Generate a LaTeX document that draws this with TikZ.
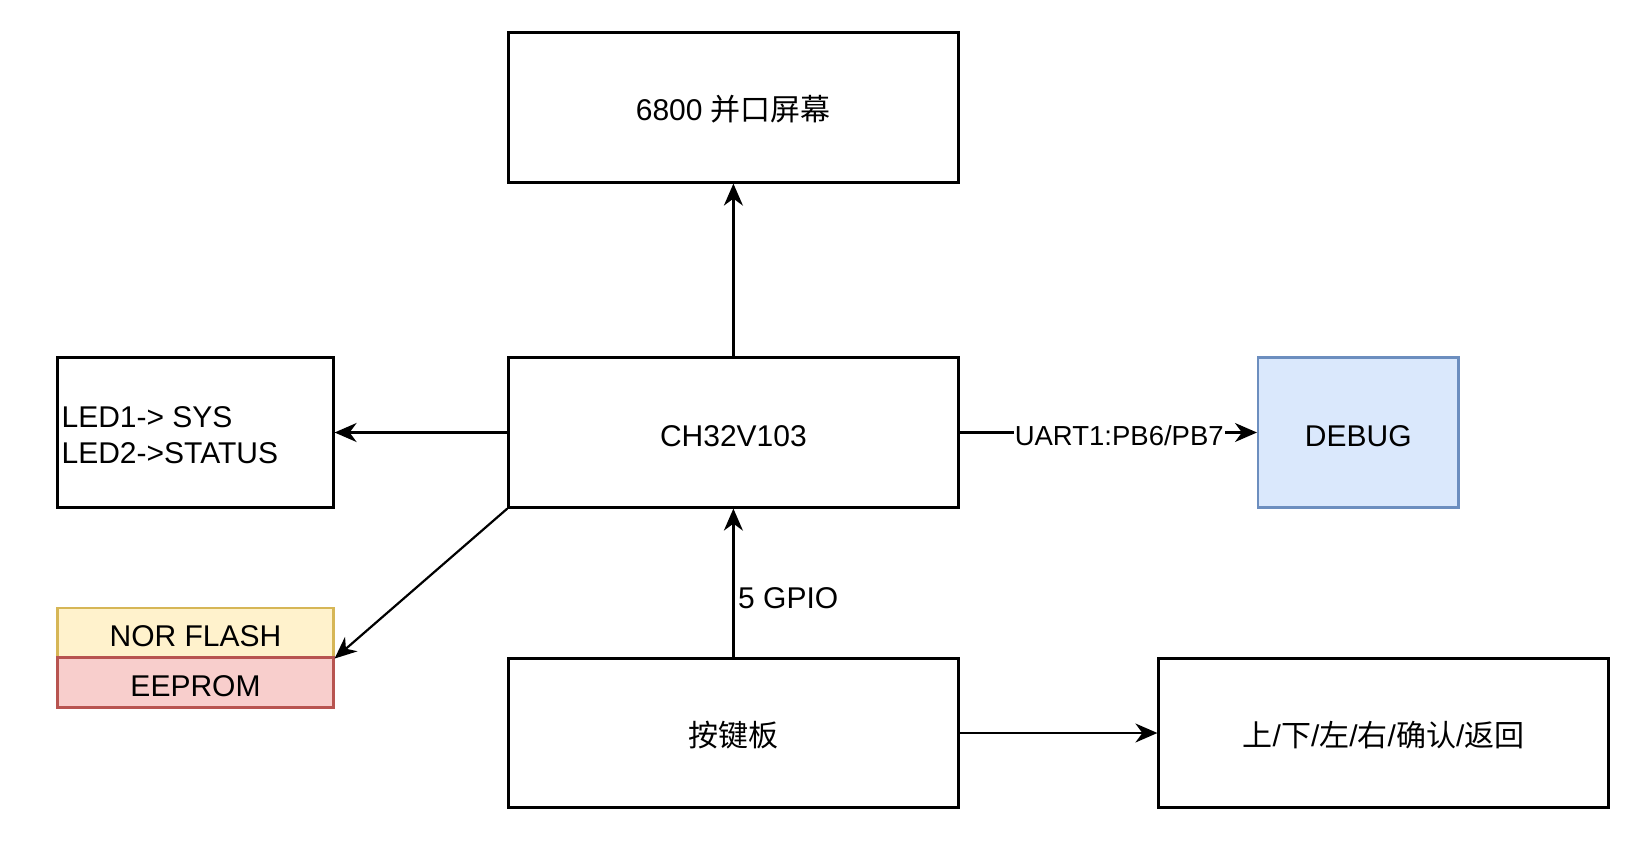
\documentclass[tikz,border=0pt]{standalone}
\usepackage{fontspec}
\setmainfont{Liberation Sans}
\newfontfamily\cjk{Noto Sans CJK SC}
\usetikzlibrary{arrows.meta}
\definecolor{yelfill}{HTML}{FFF2CC}
\definecolor{yelline}{HTML}{D6B656}
\definecolor{redfill}{HTML}{F8CECC}
\definecolor{redline}{HTML}{B85450}
\definecolor{bluefill}{HTML}{DAE8FC}
\definecolor{blueline}{HTML}{6C8EBF}
\tikzset{
  blk/.style={draw=black, line width=2.2pt, inner sep=0pt, align=center,
    font=\fontsize{30}{36}\selectfont, text height=27pt, text depth=0pt},
  conn/.style={line width=2.2pt, -{Stealth[length=22pt,width=19pt,inset=7pt]}},
  elabel/.style={fill=white, inner sep=1pt, font=\fontsize{27.5}{33}\selectfont,
    text height=25pt, text depth=0pt},
}
\begin{document}
\begin{tikzpicture}[x=1pt,y=-1pt]
\useasboundingbox (0,0) rectangle (1644,848);
\node[blk, minimum width=450pt, minimum height=150pt] (top) at (733.4,107.5) {6800 {\cjk 并口屏幕}};
\node[blk, minimum width=450pt, minimum height=150pt] (cpu) at (733.4,432.5) {CH32V103};
\node[blk, minimum width=276pt, minimum height=150pt] (led) at (195.5,432.5) {};
\node[anchor=west, inner sep=0pt, align=left, font=\fontsize{30}{36}\selectfont] (ledtxt) at ([xshift=5pt,yshift=-3pt]led.west) {LED1-> SYS\\LED2->STATUS};
\node[blk, draw=yelline, fill=yelfill, minimum width=276pt, minimum height=49.5pt] (nor) at (195.5,632.7) {NOR FLASH};
\node[blk, draw=redline, fill=redfill, minimum width=276pt, minimum height=50pt] (eep) at (195.5,682.5) {EEPROM};
\node[blk, draw=blueline, fill=bluefill, minimum width=200.5pt, minimum height=150pt] (debug) at (1358.3,432.5) {DEBUG};
\node[blk, minimum width=450pt, minimum height=149pt] (keys) at (733.4,733) {\cjk 按键板};
\node[blk, minimum width=450pt, minimum height=149pt] (dirs) at (1383.5,733) {{\cjk 上}/{\cjk 下}/{\cjk 左}/{\cjk 右}/{\cjk 确认}/{\cjk 返回}};
\draw[conn] (cpu.north) -- (top.south);
\draw[conn] (cpu.west) -- (led.east);
\draw[conn] (cpu.south west) -- (nor.south east);
\draw[conn] (cpu.east) -- node[elabel, xshift=11pt] (uart) {UART1:PB6/PB7} (debug.west);
\draw[conn] (keys.north) -- (cpu.south);
\node[anchor=west, inner sep=0pt, font=\fontsize{30}{36}\selectfont] (gpio) at (738,598) {5 GPIO};
\draw[conn] (keys.east) -- (dirs.west);
\end{tikzpicture}
\end{document}
